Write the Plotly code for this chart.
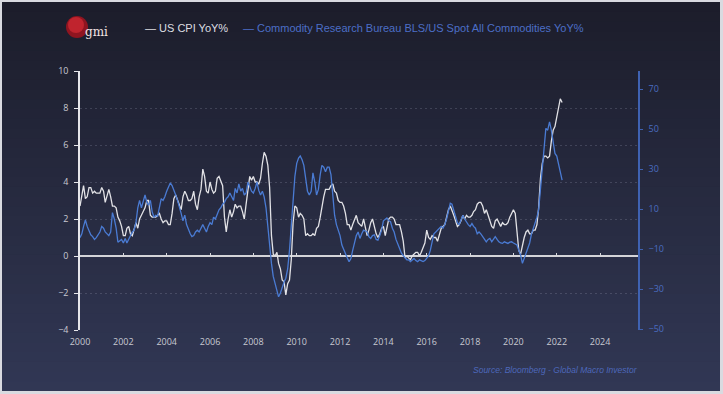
import plotly.graph_objects as go
import pandas as pd

# ---------------- data ----------------
start_month = "2000-01-01"

# US CPI YoY %, monthly Jan-2000 .. Apr-2022
cpi_yoy = [
    2.7, 3.2, 3.8, 3.1, 3.2, 3.7, 3.7, 3.4, 3.5, 3.4, 3.4, 3.4,
    3.7, 3.5, 2.9, 3.3, 3.6, 3.2, 2.7, 2.7, 2.6, 2.1, 1.9, 1.6,
    1.1, 1.1, 1.5, 1.6, 1.2, 1.1, 1.5, 1.8, 1.5, 2.0, 2.2, 2.4,
    2.6, 3.0, 3.0, 2.2, 2.1, 2.1, 2.1, 2.2, 2.3, 2.0, 1.8, 1.9,
    1.9, 1.7, 1.7, 2.3, 3.1, 3.3, 3.0, 2.7, 2.5, 3.2, 3.5, 3.3,
    3.0, 3.0, 3.1, 3.5, 2.8, 2.5, 3.2, 3.6, 4.7, 4.3, 3.5, 3.4,
    4.0, 3.6, 3.4, 3.5, 4.2, 4.3, 4.1, 3.8, 2.1, 1.3, 2.0, 2.5,
    2.1, 2.4, 2.8, 2.6, 2.7, 2.7, 2.4, 2.0, 2.8, 3.5, 4.3, 4.1,
    4.3, 4.0, 4.0, 3.9, 4.2, 5.0, 5.6, 5.4, 4.9, 3.7, 1.1, 0.1,
    0.0, 0.2, -0.4, -0.7, -1.3, -1.4, -2.1, -1.5, -1.3, -0.2, 1.8, 2.7,
    2.6, 2.1, 2.3, 2.2, 2.0, 1.1, 1.2, 1.1, 1.1, 1.2, 1.1, 1.5,
    1.6, 2.1, 2.7, 3.2, 3.6, 3.6, 3.6, 3.8, 3.9, 3.5, 3.4, 3.0,
    2.9, 2.9, 2.7, 2.3, 1.7, 1.7, 1.4, 1.7, 2.0, 2.2, 1.8, 1.7,
    1.6, 2.0, 1.5, 1.1, 1.4, 1.8, 2.0, 1.5, 1.2, 1.0, 1.2, 1.5,
    1.6, 1.1, 1.5, 2.0, 2.1, 2.1, 2.0, 1.7, 1.7, 1.7, 1.3, 0.8,
    -0.1, 0.0, -0.1, -0.2, 0.0, 0.1, 0.2, 0.2, 0.0, 0.2, 0.5, 0.7,
    1.4, 1.0, 0.9, 1.1, 1.0, 1.0, 0.8, 1.1, 1.5, 1.6, 1.7, 2.1,
    2.5, 2.7, 2.4, 2.2, 1.9, 1.6, 1.7, 1.9, 2.2, 2.0, 2.2, 2.1,
    2.1, 2.2, 2.4, 2.5, 2.8, 2.9, 2.9, 2.7, 2.3, 2.5, 2.2, 1.9,
    1.6, 1.5, 1.9, 2.0, 1.8, 1.6, 1.8, 1.7, 1.7, 1.8, 2.1, 2.3,
    2.5, 2.3, 1.5, 0.3, 0.1, 0.6, 1.0, 1.3, 1.4, 1.2, 1.2, 1.4,
    1.4, 1.7, 2.6, 4.2, 5.0, 5.4, 5.4, 5.3, 5.4, 6.2, 6.8, 7.0,
    7.5, 7.9, 8.5, 8.3,
]

# CRB BLS/US Spot All Commodities YoY %, monthly Jan-2000 .. Apr-2022 (right axis)
crb_yoy = [
    -4.3, -2.4, 1.3, 4.5, 1.3, -1.0, -2.9, -3.8, -5.2, -4.3, -2.9, -1.5,
    1.3, 0.4, -1.5, -2.4, -3.3, -1.5, 8.2, 5.0, 0.4, -6.6, -6.1, -5.2,
    -7.0, -4.7, -7.0, -5.2, -2.9, -1.5, -0.6, 3.2, 10.6, 14.3, 10.6, 13.3,
    17.0, 13.3, 11.9, 14.3, 8.7, 5.9, 6.9, 6.4, 10.6, 15.2, 14.3, 16.1,
    18.9, 20.7, 23.0, 21.7, 19.8, 17.0, 14.3, 11.5, 7.8, 4.1, 6.9, 2.2,
    -0.6, -2.4, -3.8, -3.3, -1.5, -0.6, -1.5, 0.4, 2.2, 0.4, -1.5, 1.3,
    3.2, 2.2, 5.9, 5.0, 7.8, 9.6, 10.6, 12.4, 13.3, 15.2, 16.1, 18.0,
    16.1, 14.3, 20.3, 18.0, 22.6, 18.9, 20.3, 17.0, 18.0, 23.5, 21.2, 18.9,
    18.0, 20.3, 23.5, 19.3, 17.0, 18.9, 16.1, 10.6, 1.3, -8.9, -17.2, -23.7,
    -27.4, -30.2, -33.9, -32.0, -28.8, -26.5, -24.6, -20.0, -10.7, 0.4, 14.3, 26.3,
    32.8, 35.5, 36.5, 34.6, 31.8, 26.3, 18.9, 17.0, 18.9, 28.1, 23.5, 17.0,
    19.8, 27.2, 31.8, 30.9, 28.6, 30.9, 30.9, 27.2, 18.0, 6.9, 2.2, -0.6,
    -3.3, -8.0, -10.3, -12.6, -14.4, -16.3, -14.9, -10.7, -6.1, -3.3, -1.5, -4.7,
    -2.4, -0.6, -1.0, -1.5, -3.8, -4.7, -3.3, -2.9, -5.2, -5.6, -3.3, -0.6,
    4.1, 5.0, 5.5, 4.1, 3.6, 0.4, -1.5, -5.2, -8.0, -9.8, -12.1, -13.0,
    -14.4, -15.4, -15.4, -16.3, -15.4, -14.7, -15.8, -16.3, -15.4, -15.8, -16.3, -15.8,
    -14.9, -13.5, -10.7, -7.0, -2.4, -1.5, -0.6, 0.4, 1.3, 0.4, 2.2, 5.0,
    9.6, 12.9, 12.4, 9.6, 5.9, 3.2, 2.2, 4.5, 6.9, 5.0, 3.2, 2.2,
    1.3, 2.7, 1.3, 0.4, -2.4, -1.5, -2.4, -3.8, -5.2, -6.4, -5.2, -4.7,
    -6.4, -5.2, -3.8, -5.2, -6.4, -7.0, -7.2, -6.4, -7.0, -7.2, -6.6, -6.4,
    -7.0, -7.5, -8.0, -10.7, -13.0, -17.2, -14.7, -12.2, -9.8, -7.0, -2.4, 0.4,
    2.2, 5.9, 9.6, 20.7, 30.9, 42.0, 50.3, 49.4, 53.6, 49.4, 43.9, 37.8,
    36.5, 32.8, 28.1, 24.4,
]

left_ticks = [-4, -2, 0, 2, 4, 6, 8, 10]
right_ticks = [-50, -30, -10, 10, 30, 50, 70]
year_ticks = list(range(2000, 2025, 2))

cpi_name = "US CPI YoY%"
crb_name = "Commodity Research Bureau BLS/US Spot All Commodities YoY%"
source_text = "Source: Bloomberg - Global Macro Investor"

# ---------------- layout helpers ----------------
W, H = 723, 394
ML, MR, MT, MB = 80, 85, 71, 64
PW, PH = W - ML - MR, H - MT - MB


def px(x):
    return (x - ML) / PW


def py(y):
    return (H - MB - y) / PH


dates = pd.date_range(start_month, periods=len(cpi_yoy), freq="MS")
tick_dates = [pd.Timestamp(f"{y}-01-01") for y in year_ticks]

CPI_COLOR = "#e2e2e6"
CRB_COLOR = "#4a7bd3"
AX_BLUE = "#3f62b2"

fig = go.Figure()
fig.add_trace(go.Scatter(x=dates, y=cpi_yoy, name=cpi_name, mode="lines",
                         line=dict(color=CPI_COLOR, width=1.3), yaxis="y"))
fig.add_trace(go.Scatter(x=dates, y=crb_yoy, name=crb_name, mode="lines",
                         line=dict(color=CRB_COLOR, width=1.3), yaxis="y2"))
# helper trace so the zero-line tick axis is drawn
fig.add_trace(go.Scatter(x=[dates[0]], y=[None], xaxis="x2", yaxis="y",
                         showlegend=False, hoverinfo="skip"))

shapes = []
# background gradient (stacked bands, each covering down to the bottom)
N = 40
top_c = (28, 29, 43)
bot_c = (49, 55, 84)
y_start, y_end = 2, 391
step = (y_end - y_start) / N
for i in range(N):
    f = i / (N - 1)
    c = tuple(int(round(top_c[k] + (bot_c[k] - top_c[k]) * f)) for k in range(3))
    ya = y_start + i * step
    shapes.append(dict(type="rect", xref="paper", yref="paper", layer="below",
                       x0=px(2), x1=px(720), y0=py(y_end), y1=py(ya),
                       fillcolor=f"rgb{c}", line=dict(width=0)))
# logo
shapes.append(dict(type="circle", xref="paper", yref="paper", layer="above",
                   x0=px(66), x1=px(88), y0=py(38), y1=py(16),
                   fillcolor="#8f1520", line=dict(width=0)))
shapes.append(dict(type="circle", xref="paper", yref="paper", layer="above",
                   x0=px(68), x1=px(84), y0=py(33), y1=py(17),
                   fillcolor="#c0242e", line=dict(width=0)))

annotations = [
    dict(text="gmi", xref="paper", yref="paper", x=px(83), y=py(32),
         xanchor="left", yanchor="middle", showarrow=False,
         font=dict(family="DejaVu Serif", size=12, color="#f3e4e4")),
    dict(text="— " + cpi_name, xref="paper", yref="paper", x=px(143), y=py(28),
         xanchor="left", yanchor="middle", showarrow=False,
         font=dict(family="Liberation Sans", size=11, color="#dedee2")),
    dict(text="— " + crb_name, xref="paper", yref="paper", x=px(241), y=py(28),
         xanchor="left", yanchor="middle", showarrow=False,
         font=dict(family="Liberation Sans", size=11, color="#4c6ec6")),
    dict(text="<i>" + source_text + "</i>", xref="paper", yref="paper",
         x=px(640), y=py(370), xanchor="right", yanchor="middle", showarrow=False,
         font=dict(family="Liberation Sans", size=8.5, color="#4d68bb")),
]

fig.update_layout(
    width=W, height=H,
    margin=dict(l=ML, r=MR, t=MT, b=MB),
    paper_bgcolor="#d9dae0",
    plot_bgcolor="rgba(0,0,0,0)",
    showlegend=False,
    hovermode=False,
    shapes=shapes,
    annotations=annotations,
    xaxis=dict(range=["2000-01-01", "2025-10-01"], showgrid=False, showline=False,
               zeroline=False, tickvals=tick_dates, ticktext=[str(y) for y in year_ticks],
               ticks="", tickfont=dict(family="Open Sans", size=9, color="#c8c9d2"),
               ticklabelstandoff=5),
    xaxis2=dict(matches="x", overlaying="x", anchor="free",
                position=(0 - left_ticks[0]) / (left_ticks[-1] - left_ticks[0]),
                showline=False, showgrid=False, zeroline=False, showticklabels=False,
                tickvals=tick_dates, ticks="inside", ticklen=3, tickwidth=1,
                tickcolor="#d8d8dc"),
    yaxis=dict(range=[left_ticks[0], left_ticks[-1]], tickvals=left_ticks,
               showline=True, linecolor="#e6e6ea", linewidth=1.5,
               ticks="outside", ticklen=4, tickcolor="#e6e6ea", tickwidth=1,
               showgrid=True, gridcolor="rgba(185,190,215,0.2)", griddash="2px,3px",
               gridwidth=1, zeroline=True, zerolinecolor="#d4d4d8", zerolinewidth=1.5,
               tickfont=dict(family="Open Sans", size=9, color="#c8c9d2"),
               ticklabelstandoff=4),
    yaxis2=dict(overlaying="y", side="right", range=[-50.5, 79], tickvals=right_ticks,
                showline=True, linecolor=AX_BLUE, linewidth=1.5,
                ticks="outside", ticklen=3, tickcolor=AX_BLUE, tickwidth=1,
                showgrid=False, zeroline=False,
                tickfont=dict(family="Open Sans", size=9, color="#4a6cc0"),
                ticklabelstandoff=4),
)

fig.write_html("out.html", config={"displayModeBar": False},
               post_script="document.body.style.margin='0';document.body.style.overflow='hidden';")
